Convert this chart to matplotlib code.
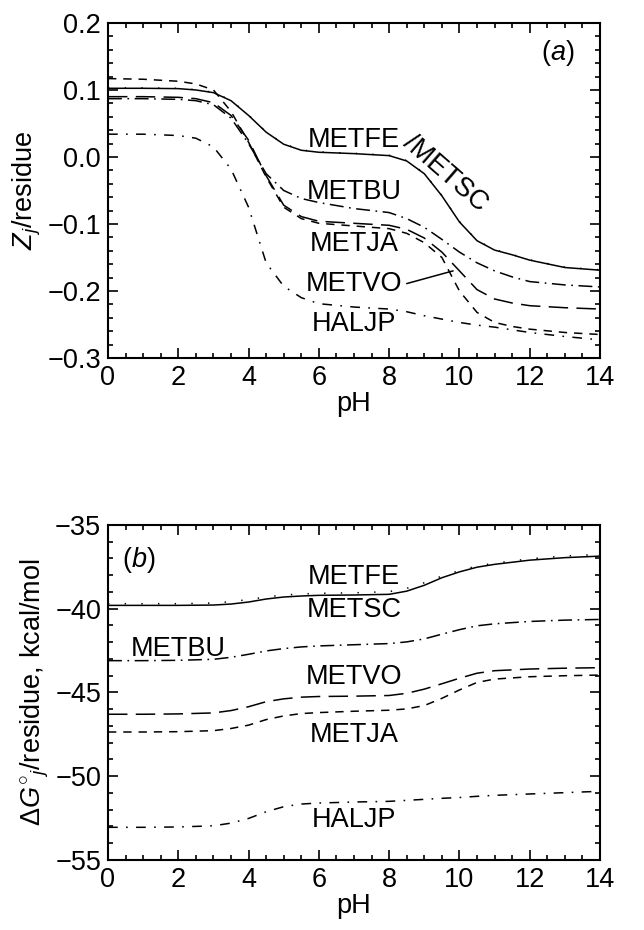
import matplotlib
matplotlib.use("Agg")
import matplotlib.pyplot as plt
from matplotlib.ticker import MultipleLocator

plt.rcParams['font.family'] = ['Liberation Sans', 'DejaVu Sans']
plt.rcParams['mathtext.fontset'] = 'custom'
plt.rcParams['mathtext.rm'] = 'Liberation Sans'
plt.rcParams['mathtext.it'] = 'Liberation Sans:italic'
plt.rcParams['lines.scale_dashes'] = False

# ---- panel (a): net charge per residue vs pH ----
ph_a = [0, 1, 2, 2.5, 3, 3.5, 4, 4.5, 5, 5.5, 6, 7, 8, 8.5, 9, 9.5, 10, 10.5, 11, 11.5, 12, 13, 14]
z_metfe = [0.1025, 0.1025, 0.102, 0.100, 0.096, 0.084, 0.062, 0.037, 0.019, 0.010, 0.007, 0.005, 0.002,
           -0.006, -0.025, -0.058, -0.097, -0.125, -0.139, -0.146, -0.154, -0.165, -0.169]
z_metsc = [0.1030, 0.1030, 0.1025, 0.1005, 0.0965, 0.0845, 0.0625, 0.0375, 0.0195, 0.0105, 0.0075, 0.0055,
           0.0025, -0.0055, -0.0245, -0.0575, -0.0965, -0.1245, -0.1385, -0.1455, -0.1535, -0.1645, -0.1685]
z_metbu = [0.087, 0.087, 0.086, 0.084, 0.078, 0.058, 0.020, -0.025, -0.050, -0.062, -0.068, -0.077, -0.083,
           -0.092, -0.105, -0.123, -0.142, -0.158, -0.170, -0.179, -0.186, -0.191, -0.194]
z_metja = [0.117, 0.116, 0.113, 0.109, 0.100, 0.068, 0.022, -0.030, -0.075, -0.092, -0.099, -0.103, -0.107,
           -0.114, -0.128, -0.150, -0.200, -0.232, -0.247, -0.253, -0.257, -0.262, -0.265]
z_metvo = [0.090, 0.090, 0.089, 0.087, 0.081, 0.062, 0.025, -0.028, -0.072, -0.089, -0.096, -0.099, -0.102,
           -0.108, -0.121, -0.142, -0.170, -0.198, -0.212, -0.218, -0.222, -0.225, -0.227]
z_haljp = [0.034, 0.034, 0.032, 0.028, 0.015, -0.018, -0.075, -0.158, -0.193, -0.210, -0.219, -0.224, -0.227,
           -0.231, -0.237, -0.242, -0.247, -0.251, -0.254, -0.258, -0.262, -0.268, -0.273]

# ---- panel (b): free energy per residue vs pH ----
ph_b = [0, 1, 2, 3, 3.5, 4, 4.5, 5, 5.5, 6, 7, 8, 8.5, 9, 9.5, 10, 10.5, 11, 12, 13, 14]
g_metfe = [-39.80, -39.80, -39.80, -39.78, -39.72, -39.60, -39.42, -39.30, -39.24, -39.20, -39.18, -39.14,
           -38.95, -38.60, -38.15, -37.80, -37.52, -37.35, -37.10, -36.95, -36.86]
g_metsc = [-39.70, -39.70, -39.70, -39.66, -39.58, -39.45, -39.30, -39.18, -39.12, -39.08, -39.05, -38.98,
           -38.78, -38.45, -38.05, -37.72, -37.45, -37.28, -37.02, -36.85, -36.76]
g_metbu = [-43.10, -43.10, -43.08, -43.02, -42.90, -42.72, -42.52, -42.38, -42.28, -42.22, -42.15, -42.08,
           -41.98, -41.80, -41.52, -41.25, -41.02, -40.90, -40.76, -40.68, -40.64]
g_metvo = [-46.30, -46.30, -46.28, -46.22, -46.08, -45.85, -45.55, -45.38, -45.28, -45.24, -45.22, -45.18,
           -45.05, -44.80, -44.48, -44.15, -43.85, -43.70, -43.60, -43.55, -43.52]
g_metja = [-47.36, -47.36, -47.34, -47.28, -47.15, -46.95, -46.62, -46.40, -46.26, -46.20, -46.12, -46.06,
           -45.98, -45.78, -45.35, -44.85, -44.40, -44.20, -44.06, -44.00, -43.96]
g_haljp = [-53.05, -53.05, -53.03, -52.96, -52.80, -52.52, -52.12, -51.82, -51.66, -51.60, -51.54, -51.50,
           -51.44, -51.38, -51.32, -51.27, -51.20, -51.14, -51.06, -50.98, -50.90]

labels = ['METFE', 'METSC', 'METBU', 'METJA', 'METVO', 'HALJP']
styles = {
    'METFE': '-',
    'METSC': (0, (1.0, 11.0)),
    'METBU': (0, (10, 4, 1.2, 4)),
    'METJA': (0, (6, 5)),
    'METVO': (0, (14, 6)),
    'HALJP': (0, (7, 6, 1.2, 6)),
}

fig = plt.figure(figsize=(6.44, 9.30), dpi=100)
ax_a = fig.add_axes([0.1677, 0.6151, 0.764, 0.3602])
ax_b = fig.add_axes([0.1677, 0.0753, 0.764, 0.3602])

for name, z in zip(labels, [z_metfe, z_metsc, z_metbu, z_metja, z_metvo, z_haljp]):
    ax_a.plot(ph_a, z, color='black', lw=1.1, linestyle=styles[name], solid_joinstyle='round')
for name, g in zip(labels, [g_metfe, g_metsc, g_metbu, g_metja, g_metvo, g_haljp]):
    ax_b.plot(ph_b, g, color='black', lw=1.1, linestyle=styles[name], solid_joinstyle='round')

fs = 19.5
for ax in (ax_a, ax_b):
    ax.set_xlim(0, 14)
    ax.xaxis.set_major_locator(MultipleLocator(2))
    ax.xaxis.set_minor_locator(MultipleLocator(0.5))
    ax.tick_params(which='both', direction='in', top=True, right=True, labelsize=fs, width=1.2)
    ax.tick_params(which='major', length=7, pad=5)
    ax.tick_params(which='minor', length=3.5)
    for sp in ax.spines.values():
        sp.set_linewidth(1.5)
    ax.set_xlabel('pH', fontsize=fs, labelpad=0)

ax_a.set_ylim(-0.3, 0.2)
ax_a.yaxis.set_major_locator(MultipleLocator(0.1))
ax_a.yaxis.set_minor_locator(MultipleLocator(0.02))
ax_a.set_yticks([0.2, 0.1, 0.0, -0.1, -0.2, -0.3])
ax_a.set_yticklabels(['0.2', '0.1', '0.0', '\u22120.1', '\u22120.2', '\u22120.3'])
ax_a.set_ylabel(r'$Z_j$/residue', fontsize=fs, labelpad=3)

ax_b.set_ylim(-55, -35)
ax_b.yaxis.set_major_locator(MultipleLocator(5))
ax_b.yaxis.set_minor_locator(MultipleLocator(1))
ax_b.set_yticks([-35, -40, -45, -50, -55])
ax_b.set_yticklabels(['\u221235', '\u221240', '\u221245', '\u221250', '\u221255'])
ax_b.set_ylabel(r'$\Delta G^{\circ}{}_j$/residue, kcal/mol', fontsize=fs, labelpad=3)

# panel (a) labels
ax_a.text(12.8, 0.155, r'($a$)', fontsize=fs, ha='center', va='center')
ax_a.text(7.0, 0.026, 'METFE', fontsize=fs, ha='center', va='center')
ax_a.text(9.6, -0.025, '/METSC', fontsize=fs, ha='center', va='center', rotation=-41,
          rotation_mode='anchor')
ax_a.text(7.0, -0.0525, 'METBU', fontsize=fs, ha='center', va='center')
ax_a.text(7.0, -0.13, 'METJA', fontsize=fs, ha='center', va='center')
ax_a.text(7.0, -0.189, 'METVO', fontsize=fs, ha='center', va='center')
ax_a.text(7.0, -0.25, 'HALJP', fontsize=fs, ha='center', va='center')
ax_a.annotate('', xy=(9.82, -0.170), xytext=(8.5, -0.189),
              arrowprops=dict(arrowstyle='-', color='black', lw=1.1, shrinkA=0, shrinkB=0))

# panel (b) labels
ax_b.text(0.88, -37.1, r'($b$)', fontsize=fs, ha='center', va='center')
ax_b.text(7.0, -38.1, 'METFE', fontsize=fs, ha='center', va='center')
ax_b.text(7.0, -40.1, 'METSC', fontsize=fs, ha='center', va='center')
ax_b.text(2.0, -42.4, 'METBU', fontsize=fs, ha='center', va='center')
ax_b.text(7.0, -44.05, 'METVO', fontsize=fs, ha='center', va='center')
ax_b.text(7.0, -47.55, 'METJA', fontsize=fs, ha='center', va='center')
ax_b.text(7.0, -52.6, 'HALJP', fontsize=fs, ha='center', va='center')

fig.savefig('out.png', dpi=100)
